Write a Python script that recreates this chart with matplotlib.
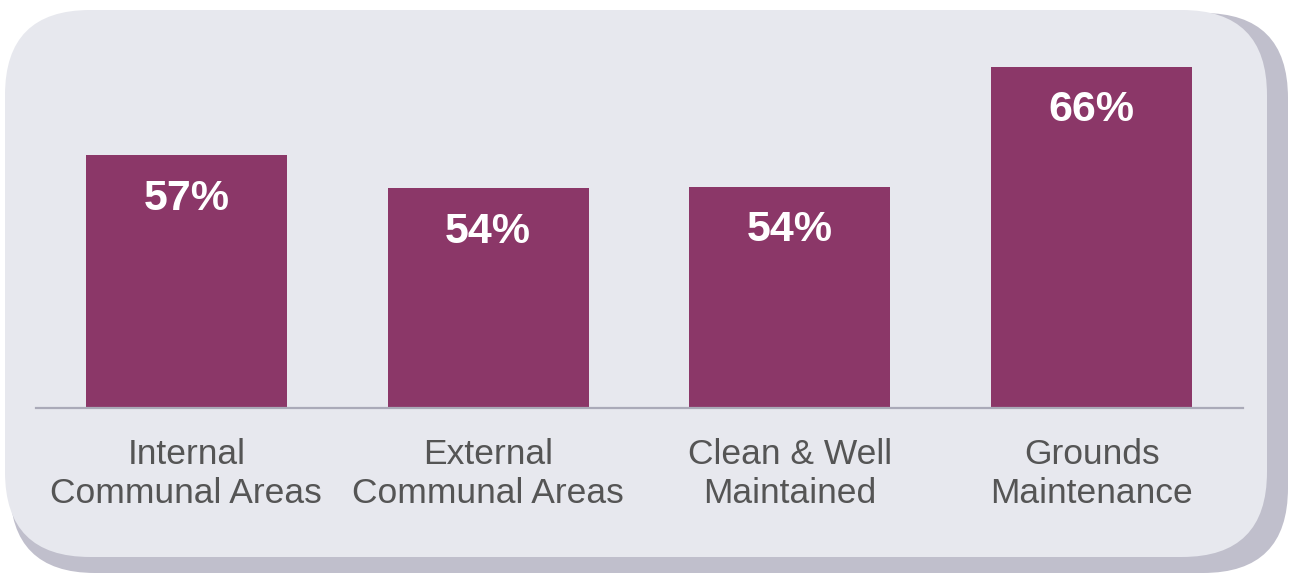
import matplotlib
matplotlib.use("Agg")
import matplotlib.pyplot as plt
from matplotlib.patches import FancyBboxPatch

plt.rcParams['font.family'] = ['Liberation Sans', 'DejaVu Sans']

# data
categories = ['Internal\nCommunal Areas', 'External\nCommunal Areas',
              'Clean & Well\nMaintained', 'Grounds\nMaintenance']
values = [57.3, 54.1, 54.2, 65.9]

bar_color = '#8B3768'
panel_color = '#E7E8EE'
shadow_color = '#C0BFCC'
line_color = '#AAAAB8'
text_color = '#555555'

W, H = 1295, 575
fig = plt.figure(figsize=(W / 100, H / 100), dpi=100)
fig.patch.set_facecolor('white')

def px_box(x0, y0, x1, y1):
    # pixel box (top-left origin) -> inches (bottom-left origin)
    return x0 / 100, (H - y1) / 100, (x1 - x0) / 100, (y1 - y0) / 100

# shadow + rounded panel (drawn behind the axes)
for box, col, r, z in [((10, 13, 1288, 573), shadow_color, 0.85, -2),
                       ((5, 10, 1267, 557), panel_color, 0.85, -1)]:
    x, y, w, h = px_box(*box)
    fig.patches.append(FancyBboxPatch((x, y), w, h,
                                      boxstyle=f'round,pad=0,rounding_size={r}',
                                      transform=fig.dpi_scale_trans,
                                      facecolor=col, edgecolor='none', zorder=z))

# axes placed in pixels
ax_left, ax_right, ax_base, ax_top = 35.5, 1242.5, 408.5, 40
ax = fig.add_axes([ax_left / W, (H - ax_base) / H,
                   (ax_right - ax_left) / W, (ax_base - ax_top) / H])
ax.set_facecolor('none')

y_bottom = 32.76
y_top = y_bottom + (ax_base - ax_top) / 10.31
x = range(len(values))
ax.bar(x, values, width=0.666, color=bar_color, zorder=2)
ax.set_xlim(-0.5, len(values) - 0.5)
ax.set_ylim(y_bottom, y_top)
ax.axhline(y_bottom, color=line_color, lw=1.6, zorder=3, clip_on=False)

for s in ax.spines.values():
    s.set_visible(False)
ax.set_xticks([])
ax.set_yticks([])

for i, v in enumerate(values):
    ax.annotate(f'{v:.0f}%', xy=(i, v), xytext=(0, -38.9),
                textcoords='offset points', ha='center', va='baseline',
                color='white', fontsize=31, fontweight='bold')
    # va='baseline' anchors the last line of a multi-line label
    ax.annotate(categories[i], xy=(i, y_bottom), xytext=(0, -68.0),
                textcoords='offset points', ha='center', va='baseline',
                color=text_color, fontsize=25.5, linespacing=1.22,
                annotation_clip=False)

fig.savefig('out.png', dpi=100)
